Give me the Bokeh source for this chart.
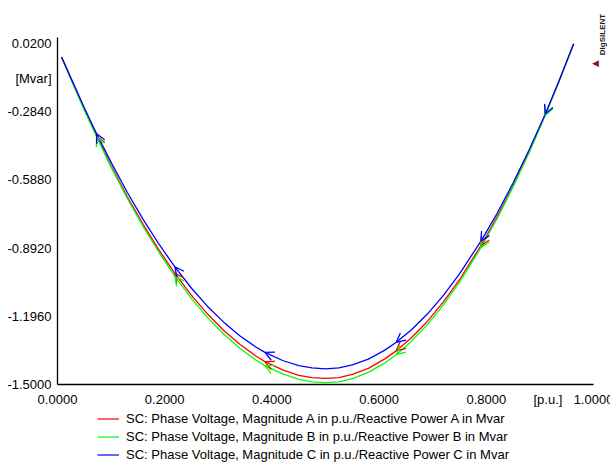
import math
from bokeh.plotting import figure
from bokeh.layouts import column
from bokeh.models import (ColumnDataSource, FixedTicker, NumeralTickFormatter, Label,
                          Arrow, OpenHead, Legend, LegendItem, Range1d)
from bokeh.embed import file_html
from bokeh.resources import INLINE

# ---- data ----
voltage = [0.0075, 0.03, 0.05, 0.073, 0.10, 0.13, 0.16, 0.19, 0.219, 0.25, 0.28, 0.31,
           0.34, 0.37, 0.387, 0.42, 0.45, 0.475, 0.50, 0.525, 0.55, 0.58, 0.61, 0.632,
           0.66, 0.69, 0.72, 0.75, 0.79, 0.82, 0.85, 0.88, 0.91, 0.935, 0.963]
q_a = [-0.040, -0.164, -0.273, -0.393, -0.525, -0.662, -0.787, -0.903, -1.005, -1.103,
       -1.186, -1.259, -1.321, -1.373, -1.398, -1.435, -1.459, -1.469, -1.473, -1.469,
       -1.455, -1.428, -1.387, -1.350, -1.293, -1.219, -1.132, -1.033, -0.881, -0.754,
       -0.614, -0.462, -0.298, -0.153, 0.019]
q_b = [-0.040, -0.166, -0.276, -0.397, -0.531, -0.670, -0.797, -0.914, -1.018, -1.117,
       -1.202, -1.275, -1.338, -1.391, -1.416, -1.453, -1.477, -1.488, -1.492, -1.488,
       -1.474, -1.446, -1.405, -1.367, -1.308, -1.233, -1.145, -1.044, -0.890, -0.761,
       -0.619, -0.466, -0.300, -0.153, 0.019]
q_c = [-0.040, -0.160, -0.266, -0.382, -0.510, -0.643, -0.765, -0.877, -0.976, -1.071,
       -1.152, -1.222, -1.283, -1.333, -1.357, -1.393, -1.416, -1.426, -1.430, -1.426,
       -1.413, -1.387, -1.348, -1.312, -1.257, -1.186, -1.103, -1.007, -0.861, -0.738,
       -0.602, -0.454, -0.294, -0.151, 0.019]
series_names = [
    "SC: Phase Voltage, Magnitude A in p.u./Reactive Power A in Mvar",
    "SC: Phase Voltage, Magnitude B in p.u./Reactive Power B in Mvar",
    "SC: Phase Voltage, Magnitude C in p.u./Reactive Power C in Mvar",
]
series_colors = ["#ff0000", "#00ff00", "#0000ff"]
x_ticks = [0.0, 0.2, 0.4, 0.6, 0.8, 1.0]
y_ticks = [0.02, -0.284, -0.588, -0.892, -1.196, -1.5]
x_unit, x_unit_pos = "[p.u.]", 0.915
y_unit, y_unit_pos = "[Mvar]", -0.134
arrow_idx = [3, 8, 14, 23, 28, 32]

W = 610
H_MAIN, H_LEG = 409, 53
FONT = "Liberation Sans"

# frame spans x 57..610 and y 13..384 so that the logo fits inside it;
# the axis lines are limited with bounds to the drawn region of the original
p = figure(width=W, height=H_MAIN, output_backend="svg", toolbar_location=None,
           x_range=Range1d(0.0, 1.0317), y_range=Range1d(-1.5, 0.1537),
           min_border_left=57, min_border_right=0, min_border_top=13,
           min_border_bottom=25)
p.outline_line_color = None
p.grid.visible = False
p.background_fill_color = "white"
p.border_fill_color = "white"

for ax, ticks, (unit, upos), bnds in ((p.xaxis[0], x_ticks, (x_unit, x_unit_pos), (0.0, 1.0)),
                                      (p.yaxis[0], y_ticks, (y_unit, y_unit_pos), (-1.5, 0.047))):
    ax.ticker = FixedTicker(ticks=ticks + [upos])
    ax.formatter = NumeralTickFormatter(format="0.0000")
    ax.major_label_overrides = {upos: unit}
    ax.bounds = bnds
    ax.major_tick_out = 0
    ax.major_tick_in = 0
    ax.minor_tick_out = 0
    ax.minor_tick_in = 0
    ax.axis_line_color = "black"
    ax.axis_line_width = 1.3
    ax.major_label_text_font = FONT
    ax.major_label_text_font_size = "13px"
    ax.major_label_text_color = "black"
p.yaxis.major_label_standoff = 6
p.xaxis.major_label_standoff = 7

# legend strip below the chart
leg = figure(width=W, height=H_LEG, output_backend="svg", toolbar_location=None,
             x_range=Range1d(5.0, 6.0), y_range=Range1d(5.0, 6.0),
             min_border_left=0, min_border_right=0, min_border_top=0,
             min_border_bottom=0, x_axis_type=None, y_axis_type=None)
leg.outline_line_color = None
leg.grid.visible = False

items = []
for q, name, col in zip((q_a, q_b, q_c), series_names, series_colors):
    src = ColumnDataSource(dict(x=voltage, y=q))
    p.line("x", "y", source=src, line_color=col, line_width=1.3)
    r2 = leg.line("x", "y", source=src, line_color=col, line_width=1.2)
    items.append(LegendItem(label=name, renderers=[r2]))
    for i in arrow_idx:
        p.add_layout(Arrow(x_start=voltage[i + 1], y_start=q[i + 1],
                           x_end=voltage[i], y_end=q[i], line_alpha=0,
                           end=OpenHead(size=9, line_color=col, line_width=1.3)))

legend = Legend(items=items, location=(40, 0), orientation="vertical",
                label_text_font=FONT, label_text_font_size="13px",
                label_text_color="black", glyph_width=22, glyph_height=15,
                label_height=15, label_standoff=7, spacing=3, padding=0,
                margin=0, border_line_color=None, background_fill_alpha=0)
leg.add_layout(legend, "center")

# logo (screen units relative to the plot frame: x from left, y up from bottom)
p.add_layout(Label(x=545, y=350, x_units="screen", y_units="screen", text="DIgSILENT",
                   angle=math.pi / 2, text_font=FONT, text_font_style="bold",
                   text_font_size="8px", text_align="center", text_baseline="middle",
                   text_color="#222222"))
p.add_layout(Label(x=538, y=322, x_units="screen", y_units="screen", text="\u25c0",
                   text_font="DejaVu Sans", text_font_size="9px", text_align="center",
                   text_baseline="middle", text_color="#8b1a1a"))

layout = column(p, leg, spacing=0)
open("out.html", "w").write(file_html(layout, INLINE))
